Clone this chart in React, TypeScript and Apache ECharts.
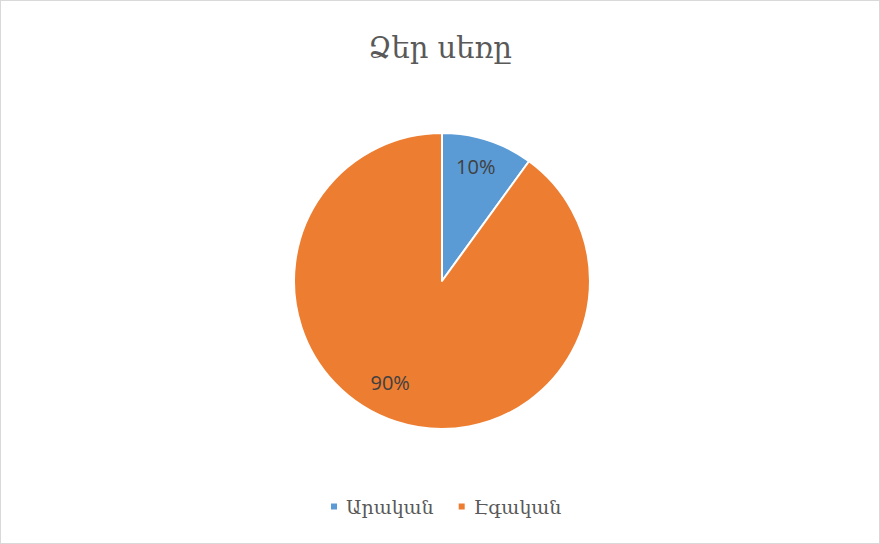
import React, { useEffect, useRef } from "react";
import * as echarts from "echarts";

const titleText = "Ձեր սեռը";
const categories = ["Արական", "Էգական"];
const values = [10, 90];
const colors = ["#5B9BD5", "#ED7D31"];

export default function App() {
  const ref = useRef<HTMLDivElement>(null);
  useEffect(() => {
    document.body.style.margin = "0";
    const chart = echarts.init(ref.current!, undefined, { renderer: "svg" });
    const offsets = [
      [10, -41],
      [-28, 28],
    ];
    chart.setOption({
      animation: false,
      backgroundColor: "#ffffff",
      title: {
        text: titleText,
        left: "center",
        top: 27,
        textStyle: {
          fontFamily: "DejaVu Serif",
          fontSize: 29,
          fontWeight: "normal",
          color: "#595959",
        },
      },
      legend: {
        bottom: 22,
        left: 323,
        icon: "rect",
        itemWidth: 8,
        itemHeight: 8,
        itemGap: 23,
        data: categories,
        textStyle: {
          fontFamily: "DejaVu Serif",
          fontSize: 19,
          color: "#595959",
          padding: [0, 0, 0, 3],
        },
      },
      series: [
        {
          type: "pie",
          center: [441, 280],
          radius: 148,
          startAngle: 90,
          clockwise: true,
          itemStyle: { borderColor: "#ffffff", borderWidth: 2 },
          label: {
            show: true,
            position: "inside",
            formatter: "{d}%",
            fontFamily: "Open Sans",
            fontSize: 20,
            color: "#404040",
          },
          labelLine: { show: false },
          data: categories.map((name, i) => ({
            name,
            value: values[i],
            itemStyle: { color: colors[i] },
            label: { offset: offsets[i] },
          })),
        },
      ],
    });
    return () => chart.dispose();
  }, []);
  return (
    <div
      ref={ref}
      style={{
        width: 878,
        height: 542,
        border: "1px solid #d9d9d9",
      }}
    />
  );
}
